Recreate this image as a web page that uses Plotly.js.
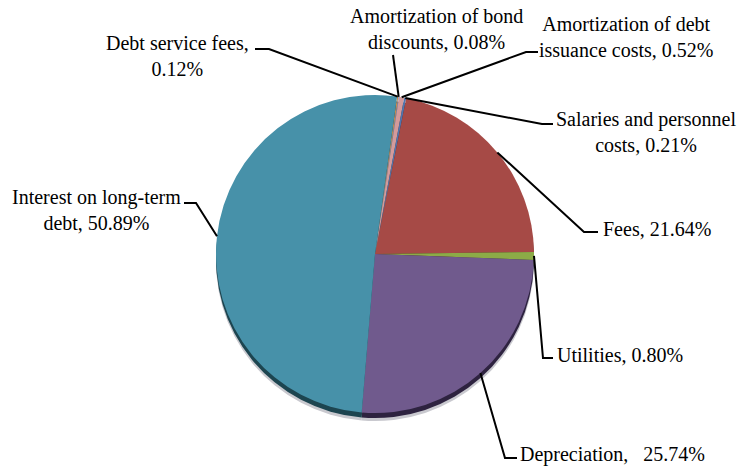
<!DOCTYPE html>
<html>
<head>
<meta charset="utf-8">
<script src="https://cdn.plot.ly/plotly-3.0.1.min.js"></script>
<style>html,body{margin:0;padding:0;background:#fff;}#chart{width:739px;height:468px;}</style>
</head>
<body>
<div id="chart"></div>
<script>
// ---- data ----
var labels = ['Debt service fees', 'Amortization of bond discounts', 'Amortization of debt issuance costs',
  'Salaries and personnel costs', 'Fees', 'Utilities', 'Depreciation', 'Interest on long-term debt'];
var values = [0.12, 0.08, 0.52, 0.21, 21.64, 0.80, 25.74, 50.89];
var labelText = ['Debt service fees,<br>0.12%', 'Amortization of bond<br>discounts, 0.08%',
  'Amortization of debt<br>issuance costs, 0.52%', 'Salaries and personnel<br>costs, 0.21%',
  'Fees, 21.64%', 'Utilities, 0.80%', 'Depreciation,\u00A0\u00A0 25.74%', 'Interest on long-term<br>debt, 50.89%'];

// ---- styles / layout ----
var colors = ['#D08A45', '#7F97C2', '#D49A9A', '#4F76B0', '#A64A46', '#8CAB47', '#705A8D', '#4791A9'];
var darkColors = ['#5a3a1c', '#33405a', '#5a3a3a', '#22344e', '#4a1f1e', '#3c4a1e', '#2e2340', '#1d4550'];
var W = 739, H = 468;
var cx = 375, cy = 254, R = 159;
var rotation = 8;
var FONT = 'Liberation Serif';

// label positions (pixel coords) and leader knots (from label side toward slice)
var labelPos = [
  {x: 177, y: 56, xa: 'center'},
  {x: 436, y: 29, xa: 'center'},
  {x: 626, y: 37, xa: 'center'},
  {x: 646, y: 132, xa: 'center'},
  {x: 601, y: 229, xa: 'left'},
  {x: 555, y: 355, xa: 'left'},
  {x: 518, y: 454, xa: 'left'},
  {x: 96, y: 210, xa: 'center'}
];
var knots = [
  [[255, 49], [269, 49]],
  [[393, 55]],
  [[538, 52], [526, 52]],
  [[553, 124], [542, 124]],
  [[598, 232], [584, 232]],
  [[553, 358], [543, 358]],
  [[517, 458], [505, 458]],
  [[184, 203], [196, 203]]
];

function px2x(x) { return x / W; }
function px2y(y) { return 1 - y / H; }
function dom(ox, oy) {
  return {x: [px2x(cx + ox - R), px2x(cx + ox + R)], y: [px2y(cy + oy + R), px2y(cy + oy - R)]};
}
function pieTrace(cols, ox, oy) {
  return {
    type: 'pie', labels: labels, values: values, sort: false, direction: 'clockwise',
    rotation: rotation, textinfo: 'none', hoverinfo: 'skip', showlegend: false,
    marker: {colors: cols, line: {width: 0}}, domain: dom(ox, oy)
  };
}
var grayCols = labels.map(function () { return '#c9c9cf'; });
var traces = [pieTrace(grayCols, 0, 8), pieTrace(darkColors, 0, 5), pieTrace(colors, 0, 0)];

// slice midpoints from data
var total = values.reduce(function (a, b) { return a + b; }, 0);
var cum = 0, mids = [];
values.forEach(function (v) {
  var a = (rotation + (cum + v / 2) / total * 360) * Math.PI / 180;
  mids.push([cx + R * Math.sin(a), cy - R * Math.cos(a)]);
  cum += v;
});

var shapes = [], annotations = [];
labels.forEach(function (l, i) {
  var pts = knots[i].concat([mids[i]]);
  var p = 'M ' + pts.map(function (q) { return px2x(q[0]) + ',' + px2y(q[1]); }).join(' L ');
  shapes.push({type: 'path', xref: 'paper', yref: 'paper', path: p, line: {color: '#000', width: 2}});
  annotations.push({
    xref: 'paper', yref: 'paper', x: px2x(labelPos[i].x), y: px2y(labelPos[i].y),
    xanchor: labelPos[i].xa, yanchor: 'middle', align: 'center', showarrow: false,
    text: labelText[i], font: {family: FONT, size: 20, color: '#000'}
  });
});

var layout = {
  width: W, height: H, margin: {l: 0, r: 0, t: 0, b: 0},
  paper_bgcolor: '#fff', plot_bgcolor: '#fff', showlegend: false,
  shapes: shapes, annotations: annotations
};
Plotly.newPlot('chart', traces, layout, {staticPlot: true, displayModeBar: false});
</script>
</body>
</html>
